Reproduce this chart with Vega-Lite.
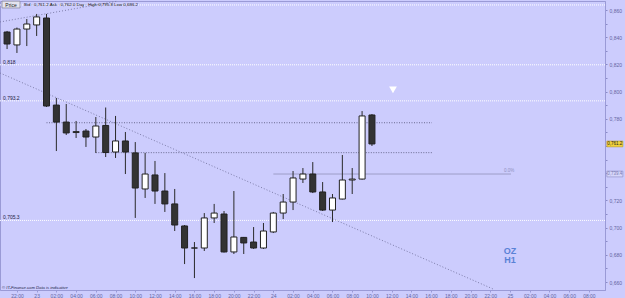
{
  "$schema": "https://vega.github.io/schema/vega-lite/v6.json",
  "autosize": {"type": "none"},
  "width": 605,
  "height": 289,
  "padding": {"left": 0, "top": 1, "right": 20, "bottom": 8},
  "background": "#ccccfd",
  "config": {
    "view": {"stroke": "#9a9ad6", "fill": "#ccccfd"},
    "axis": {"labelFont": "Liberation Sans", "titleFont": "Liberation Sans"},
    "text": {"font": "Liberation Sans"}
  },
  "datasets": {
    "candles": [
      {"t": "2013-10-22T21:00:00Z", "o": 0.8438, "h": 0.8446, "l": 0.8313, "c": 0.8350},
      {"t": "2013-10-22T22:00:00Z", "o": 0.8343, "h": 0.8471, "l": 0.8284, "c": 0.8460},
      {"t": "2013-10-22T23:00:00Z", "o": 0.8460, "h": 0.8534, "l": 0.8335, "c": 0.8497},
      {"t": "2013-10-23T00:00:00Z", "o": 0.8490, "h": 0.8571, "l": 0.8409, "c": 0.8549},
      {"t": "2013-10-23T01:00:00Z", "o": 0.8541, "h": 0.8571, "l": 0.7887, "c": 0.7894},
      {"t": "2013-10-23T02:00:00Z", "o": 0.7901, "h": 0.7953, "l": 0.7563, "c": 0.7776},
      {"t": "2013-10-23T03:00:00Z", "o": 0.7776, "h": 0.7909, "l": 0.7681, "c": 0.7696},
      {"t": "2013-10-23T04:00:00Z", "o": 0.7699, "h": 0.7784, "l": 0.7659, "c": 0.7706},
      {"t": "2013-10-23T05:00:00Z", "o": 0.7710, "h": 0.7725, "l": 0.7593, "c": 0.7666},
      {"t": "2013-10-23T06:00:00Z", "o": 0.7666, "h": 0.7813, "l": 0.7549, "c": 0.7747},
      {"t": "2013-10-23T07:00:00Z", "o": 0.7751, "h": 0.7883, "l": 0.7519, "c": 0.7552},
      {"t": "2013-10-23T08:00:00Z", "o": 0.7556, "h": 0.7821, "l": 0.7512, "c": 0.7637},
      {"t": "2013-10-23T09:00:00Z", "o": 0.7637, "h": 0.7703, "l": 0.7394, "c": 0.7556},
      {"t": "2013-10-23T10:00:00Z", "o": 0.7549, "h": 0.7629, "l": 0.7071, "c": 0.7291},
      {"t": "2013-10-23T11:00:00Z", "o": 0.7284, "h": 0.7549, "l": 0.7218, "c": 0.7394},
      {"t": "2013-10-23T12:00:00Z", "o": 0.7387, "h": 0.7490, "l": 0.7174, "c": 0.7269},
      {"t": "2013-10-23T13:00:00Z", "o": 0.7269, "h": 0.7401, "l": 0.7115, "c": 0.7174},
      {"t": "2013-10-23T14:00:00Z", "o": 0.7174, "h": 0.7284, "l": 0.6975, "c": 0.7019},
      {"t": "2013-10-23T15:00:00Z", "o": 0.7012, "h": 0.7019, "l": 0.6732, "c": 0.6850},
      {"t": "2013-10-23T16:00:00Z", "o": 0.6850, "h": 0.6894, "l": 0.6629, "c": 0.6850},
      {"t": "2013-10-23T17:00:00Z", "o": 0.6850, "h": 0.7107, "l": 0.6828, "c": 0.7071},
      {"t": "2013-10-23T18:00:00Z", "o": 0.7071, "h": 0.7174, "l": 0.7034, "c": 0.7107},
      {"t": "2013-10-23T19:00:00Z", "o": 0.7100, "h": 0.7122, "l": 0.6817, "c": 0.6821},
      {"t": "2013-10-23T20:00:00Z", "o": 0.6821, "h": 0.7269, "l": 0.6806, "c": 0.6931},
      {"t": "2013-10-23T21:00:00Z", "o": 0.6928, "h": 0.6931, "l": 0.6806, "c": 0.6887},
      {"t": "2013-10-23T22:00:00Z", "o": 0.6894, "h": 0.7004, "l": 0.6843, "c": 0.6850},
      {"t": "2013-10-23T23:00:00Z", "o": 0.6850, "h": 0.7034, "l": 0.6843, "c": 0.6975},
      {"t": "2013-10-24T00:00:00Z", "o": 0.6968, "h": 0.7115, "l": 0.6960, "c": 0.7107},
      {"t": "2013-10-24T01:00:00Z", "o": 0.7107, "h": 0.7247, "l": 0.7063, "c": 0.7188},
      {"t": "2013-10-24T02:00:00Z", "o": 0.7188, "h": 0.7416, "l": 0.7129, "c": 0.7365},
      {"t": "2013-10-24T03:00:00Z", "o": 0.7357, "h": 0.7438, "l": 0.7328, "c": 0.7394},
      {"t": "2013-10-24T04:00:00Z", "o": 0.7394, "h": 0.7482, "l": 0.7254, "c": 0.7262},
      {"t": "2013-10-24T05:00:00Z", "o": 0.7262, "h": 0.7335, "l": 0.7122, "c": 0.7129},
      {"t": "2013-10-24T06:00:00Z", "o": 0.7129, "h": 0.7247, "l": 0.7041, "c": 0.7218},
      {"t": "2013-10-24T07:00:00Z", "o": 0.7210, "h": 0.7534, "l": 0.7207, "c": 0.7350},
      {"t": "2013-10-24T08:00:00Z", "o": 0.7350, "h": 0.7438, "l": 0.7247, "c": 0.7357},
      {"t": "2013-10-24T09:00:00Z", "o": 0.7357, "h": 0.7857, "l": 0.7353, "c": 0.7821},
      {"t": "2013-10-24T10:00:00Z", "o": 0.7828, "h": 0.7835, "l": 0.7600, "c": 0.7615}
    ],
    "whiteLevels": [{"p": 0.8637}, {"p": 0.8197}, {"p": 0.7932}, {"p": 0.7053}],
    "dotLevels": [
      {"t": "2013-10-23T01:00:00Z", "t2": "2013-10-24T16:05:00Z", "p": 0.7771},
      {"t": "2013-10-23T06:00:00Z", "t2": "2013-10-24T16:05:00Z", "p": 0.7551}
    ],
    "fibo": [{"t": "2013-10-24T00:00:00Z", "t2": "2013-10-25T00:06:00Z", "p": 0.7394}],
    "trends": [
      {"t": "2013-10-22T20:17:00Z", "p": 0.8137, "t2": "2013-10-24T22:16:00Z", "p2": 0.6549},
      {"t": "2013-10-22T20:17:00Z", "p": 0.8512, "t2": "2013-10-23T08:15:00Z", "p2": 0.8666}
    ],
    "marker": [{"t": "2013-10-24T12:08:00Z", "p": 0.8012}],
    "levelLabels": [
      {"t": "2013-10-22T20:35:00Z", "p": 0.8197, "label": "0,818"},
      {"t": "2013-10-22T20:35:00Z", "p": 0.7932, "label": "0,793.2"},
      {"t": "2013-10-22T20:35:00Z", "p": 0.7053, "label": "0,705.3"}
    ],
    "header": [{"t": "2013-10-22T22:43:00Z", "p": 0.8640, "label": "Bid : 0,761.2 Ask : 0,762.0 Day : High 0,795.8 Low 0,686.2"}],
    "priceTag": [{"t": "2013-10-22T21:24:00Z", "p": 0.8640, "label": "Price"}],
    "footer": [{"t": "2013-10-22T20:29:00Z", "p": 0.6556, "label": "© IT-Finance.com  Data is indicative"}],
    "symbolName": [
      {"t": "2013-10-25T00:00:00Z", "p": 0.6828, "label": "OZ"},
      {"t": "2013-10-25T00:00:00Z", "p": 0.6762, "label": "H1"}
    ],
    "pct": [{"t": "2013-10-24T23:55:00Z", "p": 0.7415, "label": "0.0%"}],
    "lastTag": [{"t": "2013-10-25T10:38:00Z", "p": 0.7615, "label": "0,761.2"}],
    "fiboTag": [{"t": "2013-10-25T10:38:00Z", "p": 0.7394, "label": "0,739.4"}]
  },
  "layer": [
    {
      "data": {"name": "whiteLevels"},
      "mark": {"type": "rule", "color": "white", "strokeDash": [1, 1], "strokeWidth": 1},
      "encoding": {
        "y": {"field": "p", "type": "quantitative", "title": null}
      }
    },
    {
      "data": {"name": "dotLevels"},
      "mark": {"type": "rule", "color": "#6a6a90", "strokeDash": [1, 1.5], "strokeWidth": 1},
      "encoding": {
        "x": {"field": "t", "type": "temporal", "title": null},
        "x2": {"field": "t2"},
        "y": {"field": "p", "type": "quantitative", "title": null}
      }
    },
    {
      "data": {"name": "fibo"},
      "mark": {"type": "rule", "color": "#9e9ec8", "strokeWidth": 1},
      "encoding": {
        "x": {"field": "t", "type": "temporal", "title": null},
        "x2": {"field": "t2"},
        "y": {"field": "p", "type": "quantitative", "title": null}
      }
    },
    {
      "data": {"name": "trends"},
      "mark": {"type": "rule", "color": "#7c7ca8", "strokeDash": [1, 2], "strokeWidth": 1},
      "encoding": {
        "x": {"field": "t", "type": "temporal", "title": null},
        "x2": {"field": "t2"},
        "y": {"field": "p", "type": "quantitative", "title": null},
        "y2": {"field": "p2"}
      }
    },
    {
      "data": {"name": "candles"},
      "mark": {"type": "rule", "color": "#2a2a2a", "strokeWidth": 1},
      "encoding": {
        "x": {
          "field": "t", "type": "temporal", "title": null,
          "scale": {
            "type": "utc", "nice": false, "padding": 0,
            "domain": [
              {"year": 2013, "month": 10, "date": 22, "hours": 20, "minutes": 17, "utc": true},
              {"year": 2013, "month": 10, "date": 25, "hours": 9, "minutes": 38, "utc": true}
            ]
          },
          "axis": {
            "orient": "bottom",
            "tickCount": 100,
            "values": [
              {"year": 2013, "month": 10, "date": 22, "hours": 22, "utc": true},
              {"year": 2013, "month": 10, "date": 23, "hours": 0, "utc": true},
              {"year": 2013, "month": 10, "date": 23, "hours": 2, "utc": true},
              {"year": 2013, "month": 10, "date": 23, "hours": 4, "utc": true},
              {"year": 2013, "month": 10, "date": 23, "hours": 6, "utc": true},
              {"year": 2013, "month": 10, "date": 23, "hours": 8, "utc": true},
              {"year": 2013, "month": 10, "date": 23, "hours": 10, "utc": true},
              {"year": 2013, "month": 10, "date": 23, "hours": 12, "utc": true},
              {"year": 2013, "month": 10, "date": 23, "hours": 14, "utc": true},
              {"year": 2013, "month": 10, "date": 23, "hours": 16, "utc": true},
              {"year": 2013, "month": 10, "date": 23, "hours": 18, "utc": true},
              {"year": 2013, "month": 10, "date": 23, "hours": 20, "utc": true},
              {"year": 2013, "month": 10, "date": 23, "hours": 22, "utc": true},
              {"year": 2013, "month": 10, "date": 24, "hours": 0, "utc": true},
              {"year": 2013, "month": 10, "date": 24, "hours": 2, "utc": true},
              {"year": 2013, "month": 10, "date": 24, "hours": 4, "utc": true},
              {"year": 2013, "month": 10, "date": 24, "hours": 6, "utc": true},
              {"year": 2013, "month": 10, "date": 24, "hours": 8, "utc": true},
              {"year": 2013, "month": 10, "date": 24, "hours": 10, "utc": true},
              {"year": 2013, "month": 10, "date": 24, "hours": 12, "utc": true},
              {"year": 2013, "month": 10, "date": 24, "hours": 14, "utc": true},
              {"year": 2013, "month": 10, "date": 24, "hours": 16, "utc": true},
              {"year": 2013, "month": 10, "date": 24, "hours": 18, "utc": true},
              {"year": 2013, "month": 10, "date": 24, "hours": 20, "utc": true},
              {"year": 2013, "month": 10, "date": 24, "hours": 22, "utc": true},
              {"year": 2013, "month": 10, "date": 25, "hours": 0, "utc": true},
              {"year": 2013, "month": 10, "date": 25, "hours": 2, "utc": true},
              {"year": 2013, "month": 10, "date": 25, "hours": 4, "utc": true},
              {"year": 2013, "month": 10, "date": 25, "hours": 6, "utc": true},
              {"year": 2013, "month": 10, "date": 25, "hours": 8, "utc": true}
            ],
            "labelExpr": "utcFormat(datum.value, '%H') == '00' ? utcFormat(datum.value, '%d') : utcFormat(datum.value, '%H:%M')",
            "grid": false,
            "tickSize": 2,
            "labelPadding": 1,
            "labelFontSize": 5,
            "labelColor": "#6464a0",
            "domainColor": "#9a9ad6",
            "tickColor": "#9a9ad6",
            "labelFlush": false,
            "labelOverlap": false
          }
        },
        "y": {
          "field": "l", "type": "quantitative", "title": null,
          "scale": {"domain": [0.654118, 0.866618], "nice": false, "zero": false, "padding": 0},
          "axis": {
            "orient": "right",
            "tickCount": 100,
            "values": [0.66, 0.67, 0.68, 0.69, 0.70, 0.71, 0.72, 0.73, 0.74, 0.75, 0.76, 0.77, 0.78, 0.79, 0.80, 0.81, 0.82, 0.83, 0.84, 0.85, 0.86],
            "labelExpr": "(round(datum.value*100) % 2 == 0 && round(datum.value*100) != 76 && round(datum.value*100) != 74) ? replace(format(datum.value, '.3f'), '.', ',') : ''",
            "grid": false,
            "tickSize": 2,
            "labelPadding": 2,
            "labelFontSize": 5,
            "labelColor": "#6464a0",
            "domainColor": "#9a9ad6",
            "tickColor": "#8a8ac6",
            "labelFlush": false,
            "labelOverlap": false
          }
        },
        "y2": {"field": "h"}
      }
    },
    {
      "data": {"name": "candles"},
      "mark": {"type": "bar", "width": 6, "stroke": "#222222", "strokeWidth": 1},
      "encoding": {
        "x": {"field": "t", "type": "temporal", "title": null},
        "y": {"field": "o", "type": "quantitative", "title": null},
        "y2": {"field": "c"},
        "fill": {"condition": {"test": "datum.c > datum.o", "value": "#ffffff"}, "value": "#333333"}
      }
    },
    {
      "data": {"name": "marker"},
      "mark": {"type": "point", "shape": "triangle-down", "filled": true, "color": "white", "size": 60, "opacity": 1},
      "encoding": {
        "x": {"field": "t", "type": "temporal", "title": null},
        "y": {"field": "p", "type": "quantitative", "title": null}
      }
    },
    {
      "data": {"name": "levelLabels"},
      "mark": {"type": "text", "align": "left", "baseline": "alphabetic", "dy": -1, "fontSize": 5, "color": "#1e1e40"},
      "encoding": {
        "x": {"field": "t", "type": "temporal", "title": null},
        "y": {"field": "p", "type": "quantitative", "title": null},
        "text": {"field": "label"}
      }
    },
    {
      "data": {"name": "priceTag"},
      "mark": {"type": "point", "shape": "M-1,-0.38L1,-0.38L1,0.38L-1,0.38Z", "size": 324, "filled": true, "fill": "#e4e4ee", "stroke": "#8a8a9a", "strokeWidth": 0.8, "opacity": 1},
      "encoding": {
        "x": {"field": "t", "type": "temporal", "title": null},
        "y": {"field": "p", "type": "quantitative", "title": null}
      }
    },
    {
      "data": {"name": "priceTag"},
      "mark": {"type": "text", "align": "center", "baseline": "middle", "fontSize": 5, "color": "#222222"},
      "encoding": {
        "x": {"field": "t", "type": "temporal", "title": null},
        "y": {"field": "p", "type": "quantitative", "title": null},
        "text": {"field": "label"}
      }
    },
    {
      "data": {"name": "header"},
      "mark": {"type": "text", "align": "left", "baseline": "middle", "fontSize": 4.4, "color": "#111111"},
      "encoding": {
        "x": {"field": "t", "type": "temporal", "title": null},
        "y": {"field": "p", "type": "quantitative", "title": null},
        "text": {"field": "label"}
      }
    },
    {
      "data": {"name": "footer"},
      "mark": {"type": "text", "align": "left", "baseline": "middle", "fontSize": 4.2, "fontStyle": "italic", "color": "#23234a"},
      "encoding": {
        "x": {"field": "t", "type": "temporal", "title": null},
        "y": {"field": "p", "type": "quantitative", "title": null},
        "text": {"field": "label"}
      }
    },
    {
      "data": {"name": "symbolName"},
      "mark": {"type": "text", "align": "center", "baseline": "middle", "fontSize": 9, "fontWeight": "bold", "color": "#5a82d6"},
      "encoding": {
        "x": {"field": "t", "type": "temporal", "title": null},
        "y": {"field": "p", "type": "quantitative", "title": null},
        "text": {"field": "label"}
      }
    },
    {
      "data": {"name": "pct"},
      "mark": {"type": "text", "align": "center", "baseline": "middle", "fontSize": 4.5, "color": "#9090c0"},
      "encoding": {
        "x": {"field": "t", "type": "temporal", "title": null},
        "y": {"field": "p", "type": "quantitative", "title": null},
        "text": {"field": "label"}
      }
    },
    {
      "data": {"name": "lastTag"},
      "mark": {"type": "point", "shape": "M-1,-0.36L1,-0.36L1,0.36L-1,0.36Z", "size": 256, "filled": true, "fill": "#f2d23a", "stroke": "#b89a20", "strokeWidth": 0.6, "opacity": 1},
      "encoding": {
        "x": {"field": "t", "type": "temporal", "title": null},
        "y": {"field": "p", "type": "quantitative", "title": null}
      }
    },
    {
      "data": {"name": "lastTag"},
      "mark": {"type": "text", "align": "center", "baseline": "middle", "fontSize": 4.5, "color": "#222222"},
      "encoding": {
        "x": {"field": "t", "type": "temporal", "title": null},
        "y": {"field": "p", "type": "quantitative", "title": null},
        "text": {"field": "label"}
      }
    },
    {
      "data": {"name": "fiboTag"},
      "mark": {"type": "point", "shape": "M-1,-0.36L1,-0.36L1,0.36L-1,0.36Z", "size": 256, "filled": true, "fill": "#d6d6fb", "stroke": "#8a8ac0", "strokeWidth": 0.6, "opacity": 1},
      "encoding": {
        "x": {"field": "t", "type": "temporal", "title": null},
        "y": {"field": "p", "type": "quantitative", "title": null}
      }
    },
    {
      "data": {"name": "fiboTag"},
      "mark": {"type": "text", "align": "center", "baseline": "middle", "fontSize": 4.5, "color": "#7a7ab0"},
      "encoding": {
        "x": {"field": "t", "type": "temporal", "title": null},
        "y": {"field": "p", "type": "quantitative", "title": null},
        "text": {"field": "label"}
      }
    }
  ]
}
